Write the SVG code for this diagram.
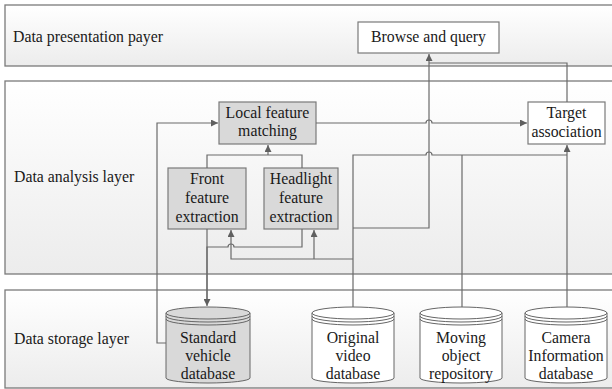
<svg xmlns="http://www.w3.org/2000/svg" width="612" height="389" viewBox="0 0 612 389">
<defs>
<linearGradient id="lg" x1="0" y1="0" x2="0" y2="1">
<stop offset="0" stop-color="#ffffff"/>
<stop offset="1" stop-color="#ececec"/>
</linearGradient>
<marker id="ah" viewBox="0 0 10 10" refX="10" refY="5" markerWidth="7" markerHeight="7" markerUnits="userSpaceOnUse" orient="auto">
<path d="M0,0 L10,5 L0,10 Z" fill="#5f5f5f"/>
</marker>
<style>
.layer{fill:url(#lg);stroke:#7a7a7a;stroke-width:1.3}
.box{fill:#ffffff;stroke:#7a7a7a;stroke-width:1.2}
.gbox{fill:#d9d9d9;stroke:#7a7a7a;stroke-width:1.2}
.cyl{fill:#ffffff;stroke:#666666;stroke-width:1}
.gcyl{fill:#d9d9d9;stroke:#666666;stroke-width:1}
.ln{fill:none;stroke:#6a6a6a;stroke-width:1.2}
.arr{marker-end:url(#ah)}
text{font-family:"Liberation Serif","Times New Roman",serif;font-size:15.8px;fill:#1a1a1a}
.c{text-anchor:middle}
</style>
</defs>

<g id="layer-presentation">
<rect class="layer" x="5" y="5" width="612" height="61"/>
<text x="13" y="42">Data presentation payer</text>
</g>
<g id="layer-analysis">
<rect class="layer" x="5" y="81" width="612" height="193"/>
<text x="14" y="182">Data analysis layer</text>
</g>
<g id="layer-storage">
<rect class="layer" x="5" y="290" width="612" height="98"/>
<text x="14" y="344">Data storage layer</text>
</g>

<g id="browse">
<rect class="box" x="358" y="22" width="141" height="31"/>
<text class="c" x="428.5" y="42">Browse and query</text>
</g>

<g id="local-matching">
<rect class="gbox" x="219" y="102" width="97" height="42"/>
<text class="c" x="267.5" y="118">Local feature</text>
<text class="c" x="267.5" y="136">matching</text>
</g>

<g id="target-association">
<rect class="box" x="528" y="102" width="77" height="42"/>
<text class="c" x="566.5" y="118">Target</text>
<text class="c" x="566.5" y="137">association</text>
</g>

<g id="front-extraction">
<rect class="gbox" x="168" y="168" width="78" height="61"/>
<text class="c" x="207" y="184">Front</text>
<text class="c" x="207" y="203">feature</text>
<text class="c" x="207" y="222">extraction</text>
</g>

<g id="headlight-extraction">
<rect class="gbox" x="264" y="168" width="74" height="61"/>
<text class="c" x="301" y="184">Headlight</text>
<text class="c" x="301" y="203">feature</text>
<text class="c" x="301" y="222">extraction</text>
</g>

<g id="standard-vehicle-db">
<path class="gcyl" d="M166,313 V378 A42,5 0 0 0 250,378 V313 Z"/>
<ellipse class="gcyl" cx="208" cy="313" rx="42" ry="6"/>
<path class="gcyl" fill="none" d="M166,316 A42,6 0 0 0 250,316 M166,319 A42,6 0 0 0 250,319" style="fill:none"/>
<text class="c" x="208" y="343">Standard</text>
<text class="c" x="208" y="361">vehicle</text>
<text class="c" x="208" y="379">database</text>
</g>

<g id="original-video-db">
<path class="cyl" d="M312,313 V378 A41,5 0 0 0 394,378 V313 Z"/>
<ellipse class="cyl" cx="353" cy="313" rx="41" ry="6"/>
<path class="cyl" d="M312,316 A41,6 0 0 0 394,316 M312,319 A41,6 0 0 0 394,319" style="fill:none"/>
<text class="c" x="353" y="343">Original</text>
<text class="c" x="353" y="361">video</text>
<text class="c" x="353" y="379">database</text>
</g>

<g id="moving-object-repository">
<path class="cyl" d="M420,313 V378 A41,5 0 0 0 502,378 V313 Z"/>
<ellipse class="cyl" cx="461" cy="313" rx="41" ry="6"/>
<path class="cyl" d="M420,316 A41,6 0 0 0 502,316 M420,319 A41,6 0 0 0 502,319" style="fill:none"/>
<text class="c" x="461" y="343">Moving</text>
<text class="c" x="461" y="361">object</text>
<text class="c" x="461" y="379">repository</text>
</g>

<g id="camera-info-db">
<path class="cyl" d="M525,313 V378 A41,5 0 0 0 607,378 V313 Z"/>
<ellipse class="cyl" cx="566" cy="313" rx="41" ry="6"/>
<path class="cyl" d="M525,316 A41,6 0 0 0 607,316 M525,319 A41,6 0 0 0 607,319" style="fill:none"/>
<text class="c" x="566" y="343">Camera</text>
<text class="c" x="566" y="361">Information</text>
<text class="c" x="566" y="379">database</text>
</g>

<g id="connectors">
<path class="ln arr" d="M166,343 H157 V123 H218"/>
<path class="ln arr" d="M316,123 H426 a3,3 0 0 1 6,0 H527"/>
<path class="ln" d="M207,168 V155 H302 V168"/>
<path class="ln arr" d="M268,155 V145"/>
<path class="ln" d="M302,229 V247 H234 a3,3 0 0 0 -6,0 H207 V300"/>
<path class="ln arr" d="M207,229 V306"/>
<path class="ln" d="M353,307 V155 H426 a3,3 0 0 1 6,0 H567"/>
<path class="ln" d="M462,307 V155"/>
<path class="ln arr" d="M567,307 V145"/>
<path class="ln arr" d="M353,259 H231 V230"/>
<path class="ln arr" d="M314,259 V230"/>
<path class="ln arr" d="M353,228 H429 V54"/>
<path class="ln" d="M567,102 V63 H429"/>
</g>
</svg>
